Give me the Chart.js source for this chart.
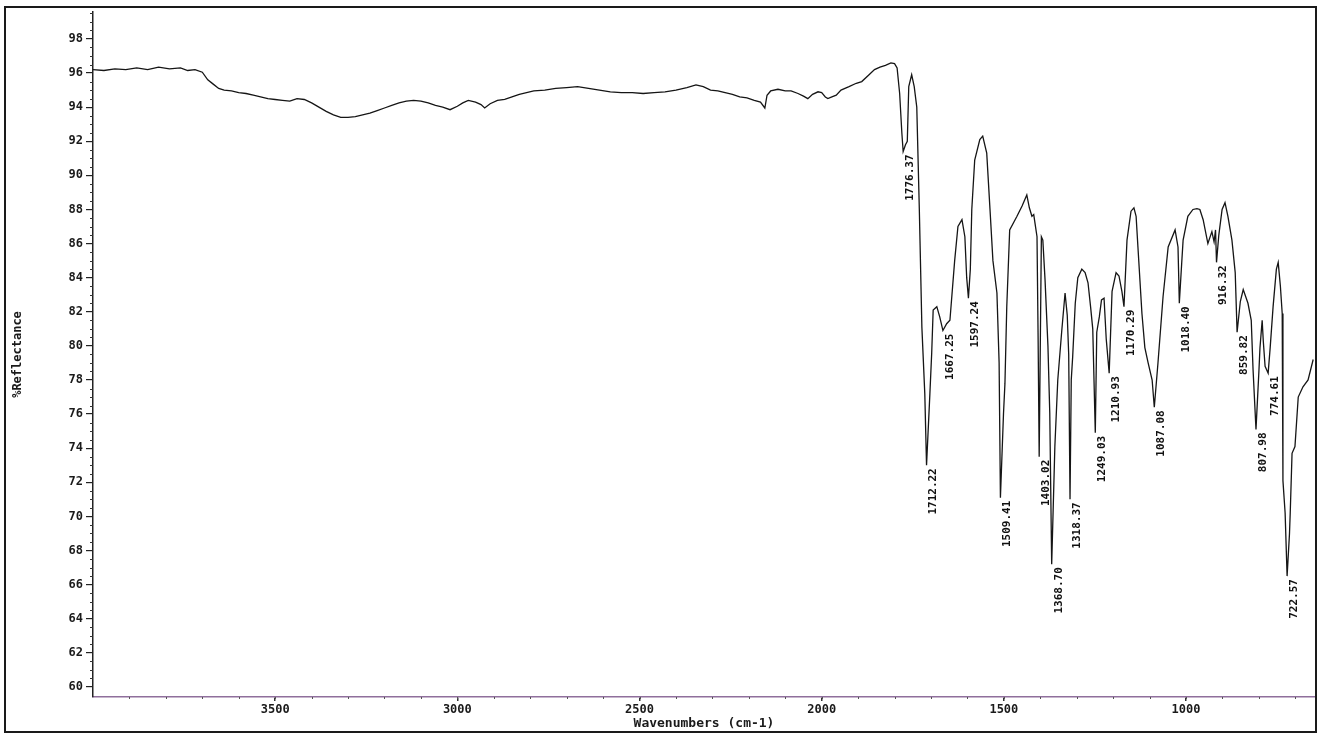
<!DOCTYPE html>
<html>
<head>
<meta charset="utf-8">
<script src="https://cdn.jsdelivr.net/npm/chart.js@4/dist/chart.umd.min.js"></script>
<style>
  html, body { margin: 0; padding: 0; background: #fff; }
  #c { display: block; }
</style>
</head>
<body>
<canvas id="c" width="1321" height="735"></canvas>
<script>
// ---- Data ----
const wavenumbers = [
  4000, 3970, 3940, 3910, 3880, 3850, 3820, 3790, 3760, 3740, 3720, 3700, 3685, 3670, 3655, 3640,
  3620, 3600, 3580, 3560, 3540, 3520, 3500, 3480, 3460, 3440, 3420, 3400, 3380, 3360, 3340, 3320,
  3300, 3280, 3260, 3240, 3220, 3200, 3180, 3160, 3140, 3120, 3100, 3080, 3060, 3040, 3020, 3000,
  2985, 2970, 2950, 2935, 2925, 2910, 2890, 2870, 2850, 2830, 2810, 2790, 2760, 2730, 2700, 2670,
  2640, 2610, 2580, 2550, 2520, 2490, 2460, 2430, 2400, 2370, 2345, 2325, 2305, 2285, 2265, 2245,
  2225, 2205, 2185, 2168, 2156, 2150, 2140, 2120, 2100, 2084, 2065, 2050, 2038, 2025, 2010, 2000,
  1990, 1983, 1972, 1960, 1947, 1925, 1905, 1890, 1870, 1855, 1840, 1825, 1810, 1800, 1793, 1786,
  1780, 1776.37, 1770, 1765, 1761, 1753, 1746, 1739, 1732, 1725, 1717, 1712.22, 1703, 1698, 1694, 1684,
  1676, 1667.25, 1657, 1648, 1635, 1626, 1615, 1607, 1602, 1597.24, 1592, 1588, 1580, 1566, 1558, 1547,
  1538, 1530, 1519, 1513, 1509.41, 1501, 1497, 1492, 1484, 1464, 1450, 1437, 1430, 1423, 1418, 1409,
  1406, 1403.02, 1400, 1397, 1393, 1387, 1379, 1374, 1368.70, 1360, 1352, 1341, 1332, 1326, 1322, 1318.37,
  1315, 1311, 1304, 1297, 1286, 1277, 1269, 1262, 1256, 1249.03, 1245, 1238, 1232, 1225, 1219, 1210.93,
  1203, 1192, 1184, 1176, 1170.29, 1162, 1151, 1143, 1137, 1132, 1121, 1113, 1104, 1093, 1087.08, 1077,
  1063, 1049, 1030, 1022, 1018.40, 1012, 1008, 995, 981, 970, 962, 953, 940, 929, 923, 919,
  916.32, 910, 901, 893, 885, 874, 865, 859.82, 851, 843, 830, 821, 816, 807.98, 800, 797,
  791, 788, 783, 774.61, 769, 761, 752, 747, 741, 736, 734, 728, 722.57, 716, 714, 709,
  701, 692, 679, 665, 651
];
const reflectance = [
  96.2, 96.15, 96.25, 96.2, 96.3, 96.2, 96.35, 96.25, 96.3, 96.15, 96.2, 96.05, 95.6, 95.35, 95.1, 95.0,
  94.95, 94.85, 94.8, 94.7, 94.6, 94.5, 94.45, 94.4, 94.35, 94.5, 94.45, 94.25, 94.0, 93.75, 93.55, 93.4,
  93.4, 93.45, 93.55, 93.65, 93.8, 93.95, 94.1, 94.25, 94.35, 94.4, 94.35, 94.25, 94.1, 94.0, 93.85, 94.05,
  94.25, 94.4, 94.3, 94.15, 93.95, 94.2, 94.4, 94.45, 94.6, 94.75, 94.85, 94.95, 95.0, 95.1, 95.15, 95.2,
  95.1, 95.0, 94.9, 94.85, 94.85, 94.8, 94.85, 94.9, 95.0, 95.15, 95.3, 95.2, 95.0, 94.95, 94.85, 94.75,
  94.6, 94.55, 94.4, 94.3, 93.95, 94.7, 94.95, 95.05, 94.95, 94.95, 94.8, 94.65, 94.5, 94.75, 94.9, 94.85,
  94.6, 94.5, 94.6, 94.7, 95.0, 95.2, 95.4, 95.5, 95.9, 96.2, 96.35, 96.45, 96.6, 96.55, 96.3, 94.8,
  92.5, 91.4, 91.8, 92.0, 95.2, 95.9, 95.2, 94.0, 88.0, 81.1, 77.2, 73.0, 77.2, 79.6, 82.1, 82.3,
  81.7, 80.9, 81.3, 81.5, 85.0, 87.0, 87.4, 86.4, 84.0, 82.8, 84.5, 88.0, 90.9, 92.1, 92.3, 91.3,
  88.0, 85.0, 83.1, 79.0, 71.1, 76.0, 77.8, 82.3, 86.8, 87.6, 88.2, 88.85, 88.1, 87.6, 87.7, 86.4,
  80.5, 73.5, 80.0, 86.4, 86.2, 83.9, 80.0, 76.1, 67.2, 74.1, 78.0, 80.9, 83.1, 81.8, 79.5, 71.0,
  78.0, 79.4, 82.5, 84.0, 84.5, 84.3, 83.7, 82.3, 81.0, 74.9, 80.8, 81.7, 82.7, 82.8, 80.4, 78.4,
  83.2, 84.3, 84.1, 83.2, 82.3, 86.2, 87.9, 88.1, 87.6, 85.8, 81.9, 79.9, 79.0, 78.0, 76.4, 79.0,
  82.9, 85.8, 86.8, 85.8, 82.5, 84.8, 86.2, 87.6, 88.0, 88.05, 88.0, 87.4, 86.0, 86.7, 86.1, 86.8,
  84.9, 86.5, 88.0, 88.4, 87.6, 86.2, 84.3, 80.8, 82.6, 83.3, 82.5, 81.5, 78.6, 75.1, 78.5, 79.9,
  81.5, 80.3, 78.8, 78.4, 79.9, 82.3, 84.5, 84.9, 83.5, 81.9, 72.1, 70.2, 66.5, 69.0, 70.2, 73.7,
  74.1, 77.0, 77.6, 78.0, 79.2
];
const peakLabels = ["1776.37","1712.22","1667.25","1597.24","1509.41","1403.02","1368.70","1318.37","1249.03",
                    "1210.93","1170.29","1087.08","1018.40","916.32","859.82","807.98","774.61","722.57"];
const peakWavenumbers = [1776.37,1712.22,1667.25,1597.24,1509.41,1403.02,1368.70,1318.37,1249.03,
                         1210.93,1170.29,1087.08,1018.40,916.32,859.82,807.98,774.61,722.57];
const peakReflectance = [91.4,73.0,80.9,82.8,71.1,73.5,67.2,71.0,74.9,
                         78.4,82.3,76.4,82.5,84.9,80.8,75.1,78.4,66.5];
const xTickValues = [3500, 3000, 2500, 2000, 1500, 1000];
const yTickValues = [60,62,64,66,68,70,72,74,76,78,80,82,84,86,88,90,92,94,96,98];
const xTitle = "Wavenumbers (cm-1)";
const yTitle = "%Reflectance";

const MONO = '"DejaVu Sans Mono", "Liberation Mono", monospace';

const points = wavenumbers.map((w, i) => ({ x: w, y: reflectance[i] }));

const decor = {
  id: 'decor',
  beforeDraw(chart) {
    const ctx = chart.ctx;
    ctx.save();
    ctx.fillStyle = '#fff';
    ctx.fillRect(0, 0, chart.width, chart.height);
    ctx.restore();
  },
  afterDraw(chart) {
    const ctx = chart.ctx;
    const xs = chart.scales.x, ys = chart.scales.y;
    ctx.save();
    // minor ticks on y axis
    ctx.strokeStyle = '#333';
    ctx.lineWidth = 1;
    ctx.beginPath();
    for (let v = 60; v <= 99.5; v += 0.5) {
      if (yTickValues.includes(v)) continue;
      const py = Math.round(ys.getPixelForValue(v)) + 0.5;
      ctx.moveTo(xs.left - 3, py);
      ctx.lineTo(xs.left, py);
    }
    ctx.stroke();
    // minor ticks on x axis
    ctx.strokeStyle = '#555';
    ctx.beginPath();
    for (let w = 700; w <= 3900; w += 100) {
      const px = Math.round(xs.getPixelForValue(w)) + 0.5;
      ctx.moveTo(px, ys.bottom);
      ctx.lineTo(px, ys.bottom + 2);
    }
    ctx.stroke();
    // peak labels (rotated)
    ctx.fillStyle = '#111';
    ctx.font = 'bold 11px ' + MONO;
    ctx.textAlign = 'right';
    ctx.textBaseline = 'middle';
    peakLabels.forEach((lab, i) => {
      const px = xs.getPixelForValue(peakWavenumbers[i]);
      const py = ys.getPixelForValue(peakReflectance[i]);
      ctx.save();
      ctx.translate(px + 7, py + 3);
      ctx.rotate(-Math.PI / 2);
      ctx.fillText(lab, 0, 0);
      ctx.restore();
    });
    // outer frame
    ctx.strokeStyle = '#1a1a1a';
    ctx.lineWidth = 2;
    ctx.strokeRect(5, 7, 1311, 725);
    ctx.restore();
  }
};

new Chart(document.getElementById('c'), {
  type: 'scatter',
  data: {
    datasets: [{
      data: points,
      showLine: true,
      borderColor: '#151515',
      borderWidth: 1.3,
      pointRadius: 0,
      tension: 0,
      fill: false
    }]
  },
  options: {
    responsive: false,
    devicePixelRatio: 1,
    animation: false,
    layout: { padding: { top: 12, right: 6, left: 0, bottom: 0 } },
    plugins: { legend: { display: false }, tooltip: { enabled: false } },
    scales: {
      x: {
        type: 'linear',
        reverse: true,
        min: 646,
        max: 4000,
        afterBuildTicks: (s) => { s.ticks = xTickValues.map(v => ({ value: v })); },
        afterFit: (s) => { s.height = 38; },
        ticks: {
          color: '#1a1a1a',
          font: { family: MONO, size: 12, weight: 'bold' },
          padding: 2,
          maxRotation: 0,
          autoSkip: false,
          callback: (v) => String(v)
        },
        grid: { drawOnChartArea: false, drawTicks: true, tickLength: 4, tickColor: '#333', lineWidth: 1.5 },
        border: { display: true, color: '#8f6f9c', width: 1.5, dash: [3, 1] },
        title: {
          display: true,
          text: xTitle,
          color: '#1a1a1a',
          font: { family: MONO, size: 13, weight: 'bold' },
          padding: { top: 0, bottom: 4 }
        }
      },
      y: {
        type: 'linear',
        min: 59.41,
        max: 99.58,
        afterBuildTicks: (s) => { s.ticks = yTickValues.map(v => ({ value: v })); },
        afterFit: (s) => { s.width = 93; },
        ticks: {
          color: '#1a1a1a',
          font: { family: MONO, size: 12, weight: 'bold' },
          padding: 3,
          autoSkip: false,
          callback: (v) => String(v)
        },
        grid: { drawOnChartArea: false, drawTicks: true, tickLength: 7, tickColor: '#222', lineWidth: 1.2 },
        border: { display: true, color: '#222', width: 1.5, dash: [2, 2] },
        title: {
          display: true,
          text: yTitle,
          color: '#1a1a1a',
          font: { family: MONO, size: 12, weight: 'bold' },
          padding: { top: 11, bottom: 0 }
        }
      }
    }
  },
  plugins: [decor]
});
</script>
</body>
</html>
